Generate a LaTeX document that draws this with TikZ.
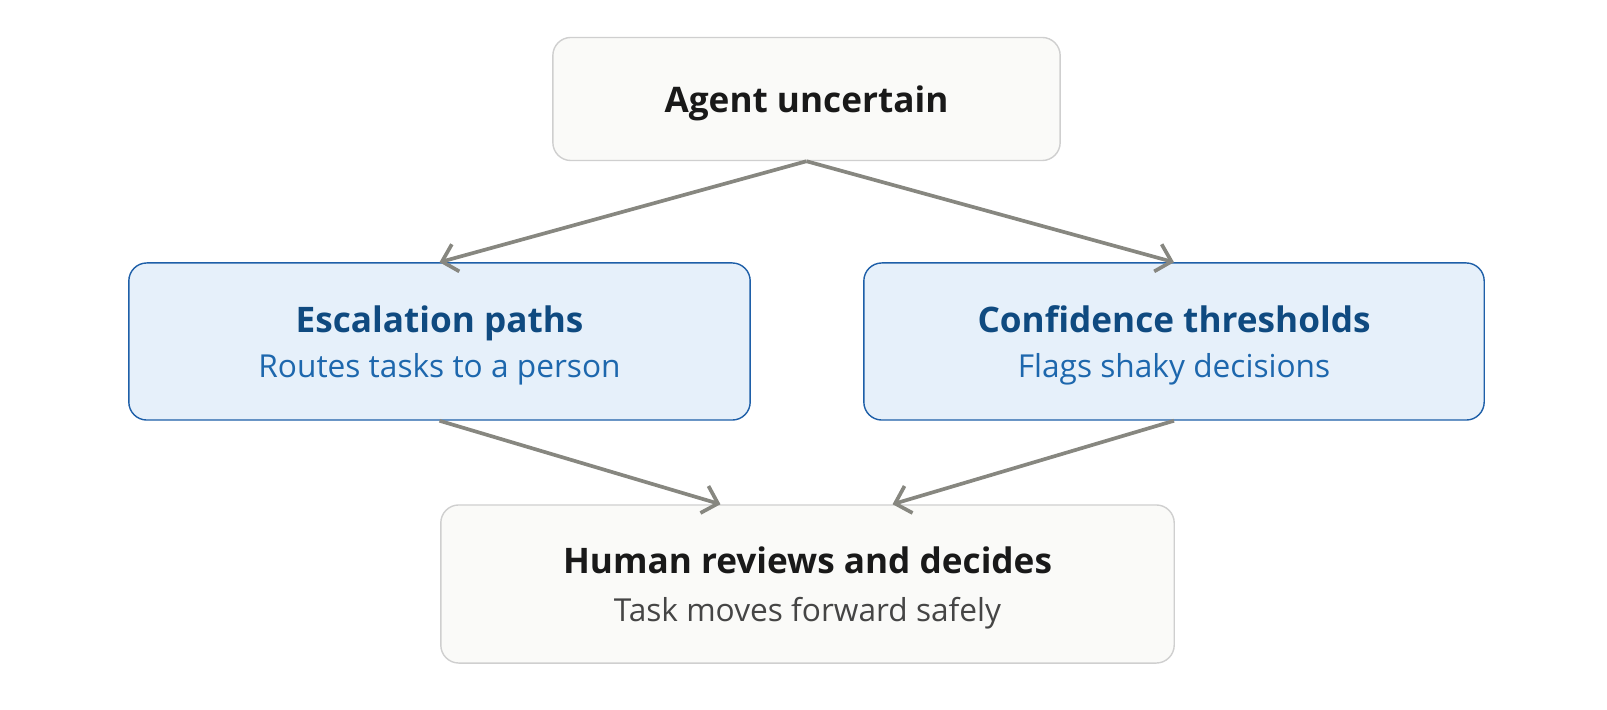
\documentclass[tikz,border=0pt]{standalone}
\usepackage{fontspec}
\setmainfont{Open Sans}
\usetikzlibrary{arrows.meta}
\definecolor{boxgray}{HTML}{FAFAF8}
\definecolor{linegray}{HTML}{CFCFCF}
\definecolor{boxblue}{HTML}{E6F0FA}
\definecolor{lineblue}{HTML}{1E5FA8}
\definecolor{headblue}{HTML}{0F4A80}
\definecolor{subblue}{HTML}{1D67AD}
\definecolor{arrowgray}{HTML}{878780}
\definecolor{subgray}{HTML}{454545}
\newcommand\boxhead{\fontsize{10}{12}\selectfont\bfseries}
\newcommand\boxsub{\fontsize{9}{10}\selectfont}
\begin{document}
\begin{tikzpicture}
			[x=0.01cm,y=-0.01cm,
			plain/.style={draw=linegray,fill=boxgray,rounded corners=0.18cm,line width=0.4pt,align=center,inner sep=0pt,text depth=0pt,text=black!90},
			accent/.style={draw=lineblue,fill=boxblue,rounded corners=0.18cm,line width=0.4pt,align=center,inner sep=0pt,text depth=0pt,text=headblue},
			link/.style={draw=arrowgray,line width=1.05pt,-{Straight Barb[length=4pt,width=8pt]}}]
			\useasboundingbox (0,0) rectangle (1607,710);
			\path node (agent) at (806.5,99) [plain,minimum width=5.07cm,minimum height=1.23cm]
					{\boxhead Agent uncertain}
				  node (escal) at (439.5,341.5) [accent,minimum width=6.21cm,minimum height=1.57cm]
					{\boxhead Escalation paths\\[1pt]\boxsub\color{subblue}Routes tasks to a person}
				  node (conf) at (1174,341.5) [accent,minimum width=6.2cm,minimum height=1.57cm]
					{\boxhead Confidence thresholds\\[1pt]\boxsub\color{subblue}Flags shaky decisions}
				  node (human) at (807.5,584) [plain,minimum width=7.33cm,minimum height=1.58cm]
					{\boxhead Human reviews and decides\\[1.5pt]\boxsub\color{subgray}Task moves forward safely};
			\draw[link] (agent.south) -- (escal.north);
			\draw[link] (agent.south) -- (conf.north);
			\draw[link] (escal.south) -- ([xshift=-0.87cm]human.north);
			\draw[link] (conf.south) -- ([xshift=0.85cm]human.north);
		\end{tikzpicture}
\end{document}
